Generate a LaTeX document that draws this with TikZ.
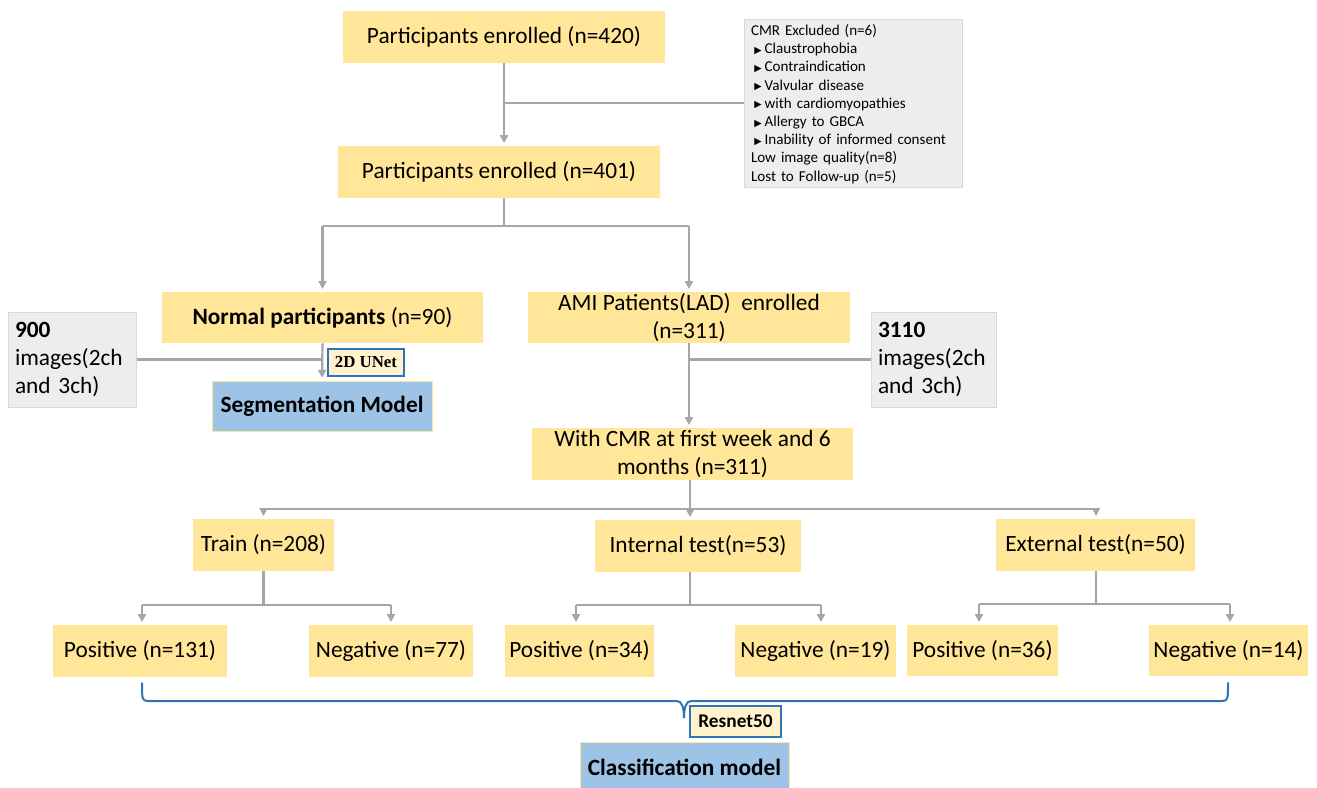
\documentclass[tikz,border=0pt]{standalone}
\usepackage{fontspec}
\setmainfont{Carlito}
\newfontfamily\timesf{Liberation Serif}
\newfontfamily\dejavu{DejaVu Sans}
\usetikzlibrary{arrows.meta}
\definecolor{ylw}{HTML}{FFE699}
\definecolor{gfill}{HTML}{EDEDED}
\definecolor{gborder}{HTML}{C9DCEF}
\definecolor{bfill}{HTML}{9DC3E6}
\definecolor{lfill}{HTML}{FFF2CC}
\definecolor{dblue}{HTML}{2E75B6}
\definecolor{lgray}{HTML}{A6A6A6}
\newcommand\pxl{0.75pt}
\newcommand\mainsz{\fontsize{17.5}{21}\selectfont}
\newcommand\exclsz{\fontsize{11.3}{13.65}\selectfont}
\newcommand\bul{\hspace*{2.5pt}\raisebox{0.3pt}{\dejavu\fontsize{7.2}{7.2}\selectfont ▶}\hspace*{2.2pt}}
\tikzset{
  sz/.style 2 args={minimum width=#1*0.75pt, minimum height=#2*0.75pt},
  ybox/.style={fill=ylw, inner sep=0pt, align=center, font=\mainsz},
  gbox/.style={fill=gfill, draw=gborder, line width=0.75pt, inner xsep=7*0.75pt, inner ysep=0pt, align=left},
  bbox/.style={fill=bfill, draw=ylw, line width=0.75pt, inner sep=0pt, align=center, font=\mainsz\bfseries},
  tag/.style={fill=lfill, draw=dblue, line width=1.5pt, inner sep=0pt, align=center},
  ln/.style={draw=lgray, line width=1.65pt},
  arr/.style={ln, -{Triangle[width=6pt,length=6pt]}, shorten >=2pt},
  bracestyle/.style={draw=dblue, line width=1.5pt, line cap=round}
}
\begin{document}
\begin{tikzpicture}[x=0.75pt,y=-0.75pt]
\useasboundingbox (0,0) rectangle (1317,788);
\fill[white] (0,0) rectangle (1317,788);

% boxes
\node[ybox, sz={322}{52}] (A) at (504,37) {Participants enrolled (n=420)};
\node[gbox, minimum height=168*\pxl, text width=204*\pxl, font=\exclsz] (excl) at (853,104)
  {\raggedright CMR Excluded (n=6)\\
   \bul Claustrophobia\\
   \bul Contraindication\\
   \bul Valvular disease\\
   \bul with cardiomyopathies\\
   \bul Allergy to GBCA\\
   \bul Inability of informed consent\\
   Low image quality(n=8)\\
   Lost to Follow-up (n=5)};
\node[ybox, sz={322}{52}] (B) at (499,172) {Participants enrolled (n=401)};
\node[ybox, sz={321}{51}] (Normal) at (322.5,317.5) {\textbf{Normal participants} (n=90)};
\node[ybox, sz={322}{51}] (AMI) at (689,317.5) {AMI Patients(LAD)~ enrolled\\(n=311)};
\node[tag, sz={76}{27}, font=\timesf\bfseries\fontsize{12.6}{14}\selectfont] (unet) at (366,362.5) {2D UNet};
\node[bbox, sz={220}{50}] (Seg) at (322,406) {Segmentation Model};
\node[gbox, minimum height=95*\pxl, text width=114*\pxl, font=\mainsz] (n900) at (72,359.5)
  {\raggedright\textbf{900}\\images(2ch\\and 3ch)};
\node[gbox, minimum height=95*\pxl, text width=111*\pxl, font=\mainsz] (n3110) at (933.5,359.5)
  {\raggedright\textbf{3110}\\images(2ch\\and 3ch)};
\node[ybox, sz={321}{52}] (CMR) at (692.5,454) {With CMR at first week and 6\\months (n=311)};
\node[ybox, sz={141}{52}] (Train) at (263.5,545) {Train (n=208)};
\node[ybox, sz={206}{52}] (Internal) at (698,546) {Internal test(n=53)};
\node[ybox, sz={199}{52}] (External) at (1095.5,545) {External test(n=50)};
\node[ybox, sz={174}{52}] (P131) at (140,651) {Positive (n=131)};
\node[ybox, sz={164}{52}] (N77) at (391,651) {Negative (n=77)};
\node[ybox, sz={149}{52}] (P34) at (579.5,651) {Positive (n=34)};
\node[ybox, sz={161}{52}] (N19) at (815.5,651) {Negative (n=19)};
\node[ybox, sz={151}{51}] (P36) at (982.5,650.5) {Positive (n=36)};
\node[ybox, sz={159}{51}] (N14) at (1228.5,650.5) {Negative (n=14)};
\node[tag, sz={91}{31}, font=\bfseries\fontsize{14.5}{16}\selectfont] (resnet) at (735.5,721.5) {Resnet50};
\node[bbox, sz={209}{50}] (Class) at (684.5,767) {Classification model};

% junctions
\coordinate (j1) at (504,103);
\coordinate (j2) at (504,226);
\coordinate (j3) at (690,509);
\coordinate (j4) at (263.5,605);
\coordinate (j5) at (690,605);
\coordinate (j6) at (1096,604);
\coordinate (k1) at (142,605);
\coordinate (k2) at (391,605);
\coordinate (k3) at (576,605);
\coordinate (k4) at (821,605);
\coordinate (k5) at (979,604);
\coordinate (k6) at (1230,604);

% connectors
\draw[arr] (A.south) -- (A.south |- B.north);
\draw[ln] (j1) -- (excl.west |- j1);
\draw[ln] (A.south |- B.south) -- (j2);
\draw[ln] (Normal.north |- j2) -- (AMI.north |- j2);
\draw[arr] (Normal.north |- j2) -- (Normal.north);
\draw[arr] (AMI.north |- j2) -- (AMI.north);
\draw[arr] (Normal.south) -- (Seg.north);
\draw[ln] (n900.east) -- (n900.east -| Normal.south);
\draw[arr] (AMI.south) -- (AMI.south |- CMR.north);
\draw[ln] (n3110.west) -- (n3110.west -| AMI.south);
\draw[ln] (j3 |- CMR.south) -- (j3);
\draw[ln] (Train.north |- j3) -- (j6 |- j3);
\draw[arr] (Train.north |- j3) -- (Train.north);
\draw[arr] (j3) -- (j3 |- Internal.north);
\draw[arr] (j6 |- j3) -- (j6 |- External.north);
\draw[ln] (j4 |- Train.south) -- (j4);
\draw[ln] (k1) -- (k2);
\draw[arr] (k1) -- (k1 |- P131.north);
\draw[arr] (k2) -- (k2 |- N77.north);
\draw[ln] (j5 |- Internal.south) -- (j5);
\draw[ln] (k3) -- (k4);
\draw[arr] (k3) -- (k3 |- P34.north);
\draw[arr] (k4) -- (k4 |- N19.north);
\draw[ln] (j6 |- External.south) -- (j6);
\draw[ln] (k5) -- (k6);
\draw[arr] (k5) -- (k5 |- P36.north);
\draw[arr] (k6) -- (k6 |- N14.north);

% brace
\coordinate (bl) at (142,683);
\coordinate (br) at (1228,683);
\coordinate (bt) at (684,718);
\draw[bracestyle] (bl) .. controls +(0,16) and +(-6,0) .. (148,701) -- (677,701)
  .. controls +(5,0) and +(0,-10) .. (bt)
  .. controls +(0,-10) and +(-5,0) .. (691,701) -- (1222,701)
  .. controls +(6,0) and +(0,16) .. (br);
\end{tikzpicture}
\end{document}
